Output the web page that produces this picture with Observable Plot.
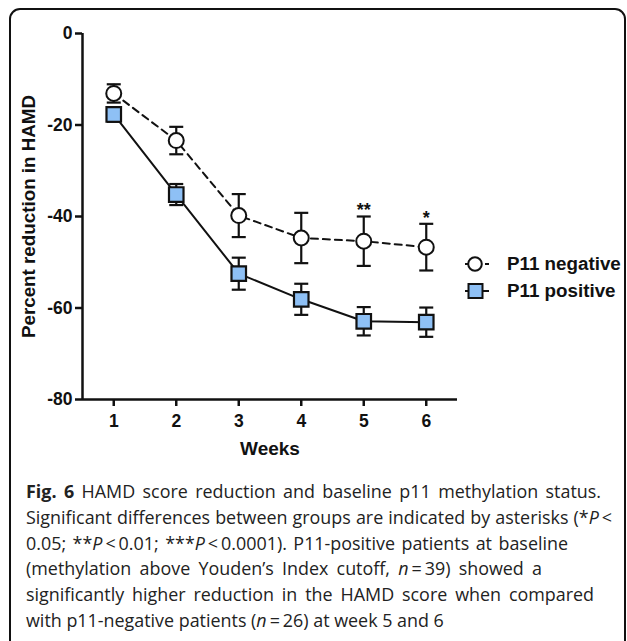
<!DOCTYPE html>
<html>
<head>
<meta charset="utf-8">
<script src="https://cdn.jsdelivr.net/npm/d3@7"></script>
<script src="https://cdn.jsdelivr.net/npm/@observablehq/plot@0.6"></script>
<style>
  html, body { margin: 0; padding: 0; background: #fff; }
  #wrap { position: relative; width: 627px; height: 641px; overflow: hidden; }
  #border { position: absolute; left: 9px; top: 8px; width: 617px; height: 660px;
            border: 2px solid #111; border-radius: 11px; box-sizing: border-box; }
  #chart { position: absolute; left: 0; top: 0; }
  #legend { position: absolute; left: 463px; top: 250px; font-family: "Liberation Sans", Arial, sans-serif;
            font-weight: bold; font-size: 18.8px; color: #111; }
  #legend .row { display: flex; align-items: center; height: 27px; }
  #legend svg { margin-right: 16px; }
  #caption { position: absolute; left: 26px; top: 479px; font-family: "Open Sans", sans-serif;
             font-size: 17.9px; line-height: 25.8px; color: #222; }
  #caption .ln { white-space: nowrap; text-align: justify; text-align-last: justify; }
  #caption .ln.last { text-align-last: left; }
</style>
</head>
<body>
<div id="wrap">
  <div id="border"></div>
  <div id="chart"></div>
  <div id="legend"></div>
  <div id="caption">
    <div class="ln" style="width:575px"><b>Fig. 6</b> HAMD score reduction and baseline p11 methylation status.</div>
    <div class="ln" style="width:586px">Significant differences between groups are indicated by asterisks (*<i>P</i>&thinsp;&lt;</div>
    <div class="ln" style="width:542px">0.05; **<i>P</i>&thinsp;&lt;&thinsp;0.01; ***<i>P</i>&thinsp;&lt;&thinsp;0.0001). P11-positive patients at baseline</div>
    <div class="ln" style="width:516px">(methylation above Youden’s Index cutoff, <i>n</i>&thinsp;=&thinsp;39) showed a</div>
    <div class="ln" style="width:568px">significantly higher reduction in the HAMD score when compared</div>
    <div class="ln last" style="width:560px">with p11-negative patients (<i>n</i>&thinsp;=&thinsp;26) at week 5 and 6</div>
  </div>
</div>
<script>
const weeks = [1, 2, 3, 4, 5, 6];
const negMean = [-13.1, -23.4, -39.8, -44.7, -45.4, -46.7];
const negErr  = [2.0, 3.0, 4.7, 5.5, 5.4, 5.1];
const posMean = [-17.7, -35.2, -52.5, -58.1, -62.9, -63.1];
const posErr  = [1.6, 2.3, 3.5, 3.4, 3.1, 3.2];
const sigLabels = ["", "", "", "", "**", "*"];
const yTicks = [0, -20, -40, -60, -80];
const seriesNames = ["P11 negative", "P11 positive"];

const neg = weeks.map((w, i) => ({week: w, mean: negMean[i], lo: negMean[i] - negErr[i], hi: negMean[i] + negErr[i], sig: sigLabels[i]}));
const pos = weeks.map((w, i) => ({week: w, mean: posMean[i], lo: posMean[i] - posErr[i], hi: posMean[i] + posErr[i]}));

const cap = { draw(ctx, size) { const r = 7; ctx.moveTo(-r, 0); ctx.lineTo(r, 0); } };
const blue = "#8ec0f5";
const ink = "#111";

const chart = Plot.plot({
  width: 627,
  height: 470,
  marginLeft: 82,
  marginRight: 170,
  marginTop: 33,
  marginBottom: 71,
  style: { fontFamily: "Liberation Sans, Arial, sans-serif", fontWeight: "bold", fontSize: "17px", color: ink, background: "transparent" },
  x: { domain: [0.5, 6.5], ticks: weeks, tickFormat: d3.format("d"), label: null },
  y: { domain: [-80, 0], ticks: yTicks, label: null },
  marks: [
    Plot.axisX({ticks: weeks, tickSize: 7, tickPadding: 8, strokeWidth: 2.5, fontSize: 17.5, fontWeight: "bold", tickFormat: d3.format("d")}),
    Plot.axisY({ticks: yTicks, tickSize: 7, tickPadding: 3, strokeWidth: 2.5, fontSize: 17.5, fontWeight: "bold", tickFormat: d => d3.format("d")(d).replace("−", "-")}),
    Plot.ruleX([0.5], {stroke: ink, strokeWidth: 2.5}),
    Plot.ruleY([-80], {stroke: ink, strokeWidth: 2.5}),
    // error bars
    Plot.ruleX(neg, {x: "week", y1: "lo", y2: "hi", stroke: ink, strokeWidth: 2.2}),
    Plot.dot(neg, {x: "week", y: "lo", symbol: cap, stroke: ink, strokeWidth: 2.2}),
    Plot.dot(neg, {x: "week", y: "hi", symbol: cap, stroke: ink, strokeWidth: 2.2}),
    Plot.ruleX(pos, {x: "week", y1: "lo", y2: "hi", stroke: ink, strokeWidth: 2.2}),
    Plot.dot(pos, {x: "week", y: "lo", symbol: cap, stroke: ink, strokeWidth: 2.2}),
    Plot.dot(pos, {x: "week", y: "hi", symbol: cap, stroke: ink, strokeWidth: 2.2}),
    // lines
    Plot.line(neg, {x: "week", y: "mean", stroke: ink, strokeWidth: 2, strokeDasharray: "7,5"}),
    Plot.line(pos, {x: "week", y: "mean", stroke: ink, strokeWidth: 2}),
    // markers
    Plot.dot(neg, {x: "week", y: "mean", r: 7.5, fill: "white", stroke: ink, strokeWidth: 2}),
    Plot.dot(pos, {x: "week", y: "mean", symbol: "square", r: 8.2, fill: blue, stroke: ink, strokeWidth: 2.2}),
    // significance
    Plot.text(neg, {x: "week", y: "hi", text: "sig", dy: -6, fontSize: 18, fontWeight: "bold", fill: ink}),
    // axis titles
    Plot.text(["Weeks"], {frameAnchor: "bottom", dy: 55, fontSize: 19, fontWeight: "bold", fill: ink}),
    Plot.text(["Percent reduction in HAMD"], {frameAnchor: "left", dx: -54, rotate: -90, textAnchor: "middle", lineAnchor: "middle", fontSize: 18.8, fontWeight: "bold", fill: ink})
  ]
});
document.getElementById("chart").appendChild(chart);

// legend
const legend = d3.select("#legend");
seriesNames.forEach((name, i) => {
  const row = legend.append("div").attr("class", "row");
  const s = row.append("svg").attr("width", 28).attr("height", 20);
  if (i === 0) {
    s.append("line").attr("x1", 2).attr("x2", 26).attr("y1", 10).attr("y2", 10).attr("stroke", ink).attr("stroke-width", 2).attr("stroke-dasharray", "4,16");
    s.append("circle").attr("cx", 12).attr("cy", 10).attr("r", 6.8).attr("fill", "white").attr("stroke", ink).attr("stroke-width", 2);
  } else {
    s.append("line").attr("x1", 2).attr("x2", 26).attr("y1", 10).attr("y2", 10).attr("stroke", ink).attr("stroke-width", 2);
    s.append("rect").attr("x", 5.5).attr("y", 3).attr("width", 14).attr("height", 14).attr("fill", blue).attr("stroke", ink).attr("stroke-width", 2);
  }
  row.append("span").text(name);
});
</script>
</body>
</html>
